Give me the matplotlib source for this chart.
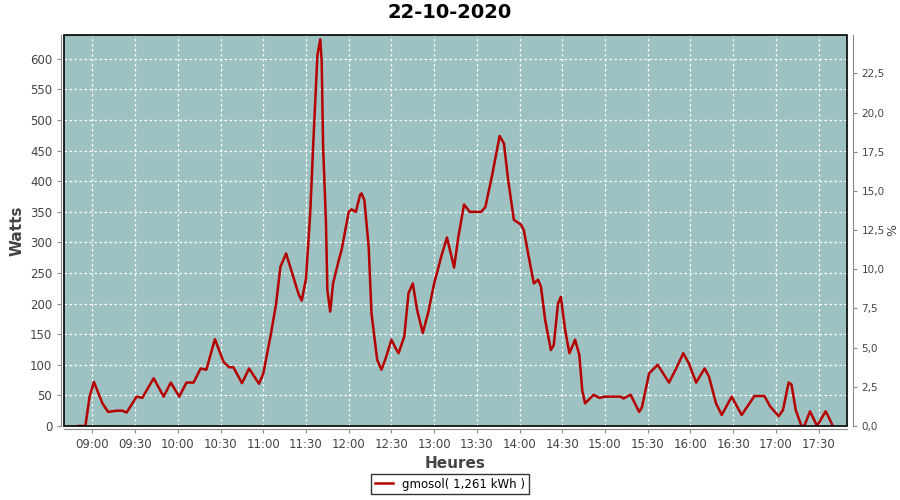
import matplotlib.pyplot as plt
from matplotlib.patches import Rectangle
from matplotlib.ticker import FuncFormatter, MultipleLocator

# readings of the day (time, watts)
times = ["08:50", "08:55", "08:58", "09:01", "09:07", "09:11", "09:17", "09:21", "09:24",
         "09:31", "09:35", "09:43", "09:50", "09:55", "10:01", "10:06", "10:11", "10:16",
         "10:20", "10:26", "10:32", "10:36", "10:39", "10:45", "10:50", "10:57", "11:00",
         "11:05", "11:09", "11:12", "11:16", "11:21", "11:25", "11:27", "11:30", "11:33",
         "11:35", "11:38", "11:40", "11:41", "11:42", "11:44", "11:45", "11:47", "11:49",
         "11:53", "11:55", "12:00", "12:02", "12:05", "12:08", "12:09", "12:11", "12:14",
         "12:16", "12:20", "12:23", "12:26", "12:30", "12:33", "12:35", "12:39", "12:42",
         "12:45", "12:48", "12:52", "12:56", "13:00", "13:05", "13:09", "13:14", "13:17",
         "13:21", "13:25", "13:33", "13:36", "13:41", "13:46", "13:49", "13:52", "13:56",
         "14:01", "14:03", "14:06", "14:10", "14:13", "14:15", "14:18", "14:22", "14:24",
         "14:27", "14:29", "14:32", "14:35", "14:39", "14:42", "14:44", "14:46", "14:52",
         "14:56", "15:00", "15:11", "15:13", "15:18", "15:24", "15:26", "15:31", "15:37",
         "15:45", "15:50", "15:55", "15:59", "16:04", "16:10", "16:13", "16:18", "16:22",
         "16:29", "16:36", "16:45", "16:52", "16:56", "17:02", "17:05", "17:09", "17:11",
         "17:14", "17:18", "17:20", "17:24", "17:29", "17:35", "17:37", "17:40"]
watts = [0, 0, 48, 72, 37, 23, 25, 25, 22,
         48, 46, 78, 48, 71, 48, 71, 71, 94,
         92, 142, 105, 96, 96, 70, 94, 69, 86,
         146, 200, 260, 282, 244, 214, 205, 241, 350,
         457, 606, 632, 596, 457, 334, 222, 187, 233,
         271, 288, 350, 354, 350, 378, 380, 369, 293,
         184, 108, 92, 111, 141, 127, 119, 146, 217,
         233, 190, 152, 187, 233, 277, 308, 259, 309,
         362, 350, 350, 358, 413, 474, 462, 402, 337,
         329, 320, 282, 233, 239, 228, 173, 124, 132,
         200, 211, 157, 119, 141, 116, 59, 37, 51,
         46, 48, 48, 45, 51, 23, 31, 86, 100,
         71, 94, 119, 102, 71, 94, 81, 37, 18,
         48, 18, 49, 49, 32, 16, 26, 71, 68,
         26, 0, 0, 24, 0, 24, 15, 0]
tick_labels = ["09:00", "09:30", "10:00", "10:30", "11:00", "11:30", "12:00", "12:30",
               "13:00", "13:30", "14:00", "14:30", "15:00", "15:30", "16:00", "16:30",
               "17:00", "17:30"]
series_name = "gmosol( 1,261 kWh )"


def to_min(s):
    h, m = s.split(":")
    return int(h) * 60 + int(m)


x = [to_min(t) for t in times]

fig = plt.figure(figsize=(9, 5), dpi=100)
ax = fig.add_axes([64 / 900, 74 / 500, 783 / 900, 391 / 500])
ax.set_facecolor("#9ec2c2")
line, = ax.plot(x, watts, color="#b40000", lw=1.8, label=series_name)

ax.set_xlim(to_min("08:40"), to_min("17:50"))
ax.set_ylim(0, 639)
ax.set_xticks([to_min(t) for t in tick_labels])
ax.set_xticklabels(tick_labels)
ax.yaxis.set_major_locator(MultipleLocator(50))
ax.grid(True, color="white", ls=(0, (2, 2)), lw=0.9)
ax.set_axisbelow(True)
ax.tick_params(colors="#888888", labelcolor="#444444", labelsize=8.5, length=3)
ax.set_ylabel("Watts", fontsize=11, color="#444444", fontweight="semibold")
ax.set_xlabel("Heures", fontsize=11, color="#444444", fontweight="semibold")
for s in ["top", "right"]:
    ax.spines[s].set_visible(False)
for s in ["left", "bottom"]:
    ax.spines[s].set_color("#888888")
    ax.spines[s].set_position(("outward", 2))
ax.add_patch(Rectangle((0, 0), 1, 1, transform=ax.transAxes, fill=False,
                       edgecolor="black", lw=1.2, clip_on=False, zorder=5))

ax2 = ax.twinx()
ax2.set_ylim(0, 24.95)
ax2.yaxis.set_major_locator(MultipleLocator(2.5))
ax2.yaxis.set_major_formatter(FuncFormatter(lambda v, p: f"{v:.1f}".replace(".", ",")))
ax2.tick_params(colors="#888888", labelcolor="#444444", labelsize=7.5, length=3)
ax2.set_ylabel("%", fontsize=9, color="#444444")
ax2.yaxis.set_label_coords(1.05, 0.5)
for s in ["top", "left", "bottom"]:
    ax2.spines[s].set_visible(False)
ax2.spines["right"].set_color("#888888")
ax2.spines["right"].set_position(("outward", 4))

fig.suptitle("22-10-2020", fontsize=14, fontweight="bold", y=0.995)
leg = fig.legend(handles=[line], loc="lower center", bbox_to_anchor=(0.5, 0.0),
                 fancybox=False, edgecolor="black", fontsize=8.5, handlelength=1.5,
                 borderpad=0.3)
leg.get_frame().set_linewidth(1)

fig.savefig("out.png", dpi=100)
